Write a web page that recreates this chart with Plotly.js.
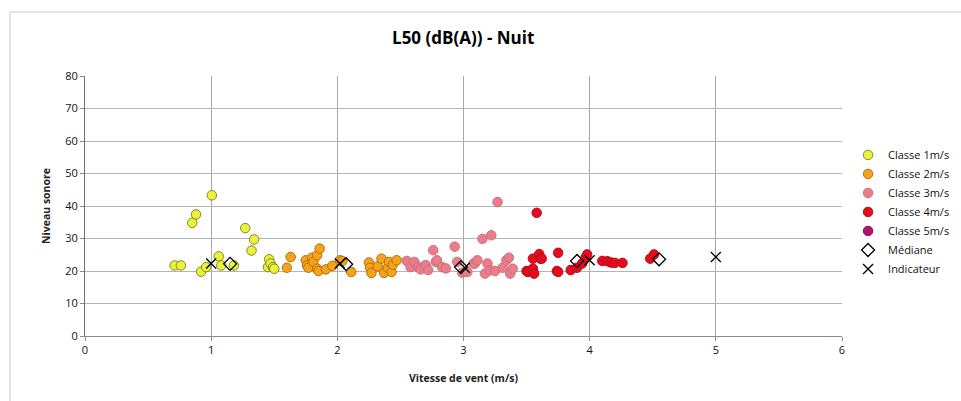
<!DOCTYPE html>
<html>
<head>
<meta charset="utf-8">
<script src="https://cdn.plot.ly/plotly-3.0.1.min.js"></script>
<style>html,body{margin:0;padding:0;background:#fff;}#chart{width:961px;height:401px;}</style>
</head>
<body>
<div id="chart"></div>
<script>
// Classe 1m/s
const x1 = [0.71,0.76,0.85,0.88,0.92,0.96,1.005,1.06,1.08,1.18,1.27,1.32,1.34,1.45,1.46,1.47,1.49,1.50];
const y1 = [21.7,21.7,34.8,37.4,19.8,21.2,43.3,24.5,21.7,21.7,33.2,26.3,29.7,21.2,23.6,22.3,21.2,20.7];
// Classe 2m/s
const x2 = [1.60,1.63,1.75,1.76,1.77,1.80,1.81,1.84,1.86,1.84,1.85,1.91,1.96,2.02,2.04,2.11,2.25,2.26,2.27,2.32,2.35,2.37,2.40,2.41,2.43,2.44,2.47];
const y2 = [21.0,24.3,23.3,21.7,21.0,24.1,22.8,24.8,26.9,20.7,20.0,20.5,21.6,23.3,23.1,19.7,22.6,21.0,19.4,21.4,23.8,19.4,21.0,22.8,19.7,21.9,23.3];
// Classe 3m/s
const x3 = [2.55,2.58,2.61,2.64,2.66,2.70,2.72,2.76,2.78,2.79,2.83,2.86,2.93,2.95,2.99,3.03,3.08,3.09,3.11,3.15,3.17,3.19,3.21,3.22,3.25,3.27,3.31,3.34,3.36,3.37,3.39];
const y3 = [23.1,21.2,22.8,21.2,20.5,21.8,20.3,26.4,22.8,23.3,21.2,20.8,27.5,22.8,19.5,19.7,22.3,22.3,23.3,29.9,19.2,22.3,20.2,31.0,20.0,41.2,21.0,23.3,24.1,19.2,20.7];
// Classe 4m/s
const x4 = [3.50,3.51,3.55,3.55,3.56,3.58,3.60,3.61,3.62,3.74,3.75,3.75,3.85,3.90,3.94,3.97,3.98,4.10,4.14,4.17,4.20,4.26,4.48,4.51];
const y4 = [20.0,19.7,20.7,23.8,19.2,37.9,25.2,23.8,23.8,20.0,25.6,19.7,20.3,21.0,22.3,24.3,25.1,23.1,23.0,22.6,22.5,22.5,23.8,25.1];
// Classe 5m/s (no visible points)
const x5 = [null];
const y5 = [null];
// Médiane
const medX = [1.15,2.07,2.98,3.90,4.55];
const medY = [22.2,22.1,21.2,23.1,23.6];
// Indicateur
const indX = [1.0,2.02,3.01,4.0,5.0];
const indY = [22.3,22.3,21.0,23.3,24.3];

const xTicks = [0,1,2,3,4,5,6];
const yTicks = [0,10,20,30,40,50,60,70,80];

const FONT = 'Open Sans, Liberation Sans, sans-serif';

function cls(name, x, y, fill, edge) {
  return {type:'scatter', mode:'markers', name:name, x:x, y:y,
    marker:{size:9.5, color:fill, line:{color:edge, width:1}}};
}

const data = [
  cls('Classe 1m/s', x1, y1, '#ecf23a', '#7f8a2a'),
  cls('Classe 2m/s', x2, y2, '#f6a31c', '#b5700f'),
  cls('Classe 3m/s', x3, y3, '#ea7d8a', '#d06f7b'),
  cls('Classe 4m/s', x4, y4, '#e60b1d', '#b80a18'),
  cls('Classe 5m/s', x5, y5, '#b4126e', '#8a0c54'),
  {type:'scatter', mode:'markers', name:'Médiane', x:medX, y:medY,
    marker:{symbol:'diamond-open', size:10, color:'#000', line:{color:'#000', width:1.3}}},
  {type:'scatter', mode:'markers', name:'Indicateur', x:indX, y:indY,
    marker:{symbol:'x-thin-open', size:10, color:'#000', line:{color:'#000', width:1.3}}}
];

const layout = {
  width:961, height:401,
  margin:{l:85, r:119, t:76, b:65, autoexpand:false},
  paper_bgcolor:'#fff', plot_bgcolor:'#fff',
  font:{family:FONT, size:11, color:'#000'},
  title:{text:'<b>L50 (dB(A)) - Nuit</b>', font:{family:FONT, size:17, color:'#000'},
    x:0.482, xanchor:'center', y:0.905, yanchor:'middle'},
  xaxis:{range:[0,6], tickvals:xTicks, ticktext:xTicks.map(String),
    showgrid:true, gridcolor:'#a8a8a8', gridwidth:1,
    showline:true, linecolor:'#8c8c8c', linewidth:1,
    zeroline:false, ticks:'outside', ticklen:4, tickcolor:'#8c8c8c',
    tickfont:{size:11, family:FONT, color:'#111'},
    title:{text:'<b>Vitesse de vent (m/s)</b>', font:{size:10.5, family:FONT, color:'#222'}, standoff:18}},
  yaxis:{range:[0,80], tickvals:yTicks, ticktext:yTicks.map(String),
    showgrid:true, gridcolor:'#b4b4b4', gridwidth:1,
    showline:true, linecolor:'#6e6e6e', linewidth:1,
    zeroline:false, ticks:'outside', ticklen:4, tickcolor:'#8c8c8c',
    tickfont:{size:11, family:FONT, color:'#111'},
    title:{text:'<b>Niveau sonore</b>', font:{size:10.5, family:FONT, color:'#222'}, standoff:12}},
  legend:{x:1.008, xanchor:'left', y:0.752, yanchor:'top',
    font:{size:11, family:FONT, color:'#111'}, bgcolor:'rgba(0,0,0,0)', tracegroupgap:0, itemwidth:30},
  showlegend:true,
  shapes:[
    {type:'line', xref:'paper', yref:'paper', x0:-0.099, x1:1.2, y0:1.246, y1:1.246, line:{color:'#c8c8c8', width:1}},
    {type:'line', xref:'paper', yref:'paper', x0:-0.099, x1:-0.099, y0:1.246, y1:-0.26, line:{color:'#c8c8c8', width:1}}
  ]
};

Plotly.newPlot('chart', data, layout, {displayModeBar:false, staticPlot:true});
</script>
</body>
</html>
